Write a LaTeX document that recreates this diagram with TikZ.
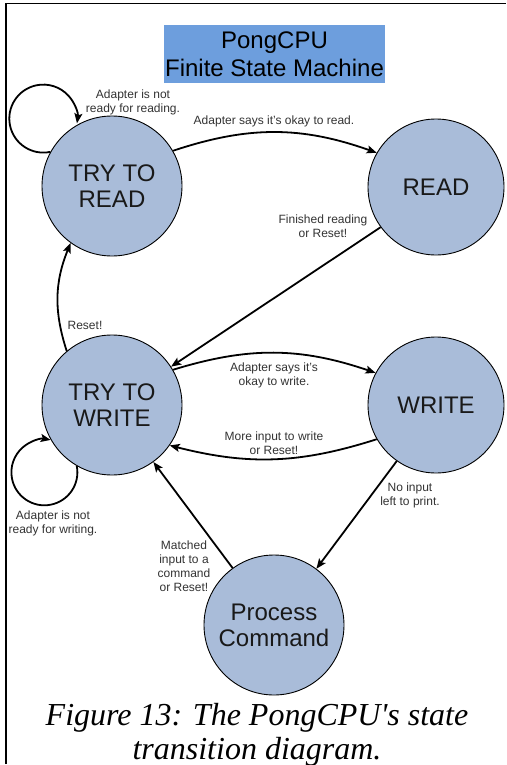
\documentclass[tikz,border=0pt]{standalone}
\usepackage{fontspec}
\setmainfont{Liberation Sans}
\newfontfamily\capfont{Liberation Serif}
\usetikzlibrary{arrows.meta}

\definecolor{statefill}{HTML}{A9BCD9}
\definecolor{titlefill}{HTML}{6D9EDD}
\definecolor{labelgray}{HTML}{333333}

\tikzset{
  state/.style={circle, draw=black, line width=0.9pt, fill=statefill,
    minimum size=140pt, inner sep=0pt, align=center,
    font=\fontsize{24}{26}\selectfont, text=black!90},
  smallstate/.style={state, minimum size=136pt},
  edge/.style={line width=1.8pt, -{Stealth[length=10pt,width=8pt,inset=2pt]}},
  lbl/.style={align=center, inner sep=0pt, text=labelgray,
    font=\fontsize{12}{14}\selectfont},
  frameline/.style={line width=1.4pt}
}

\begin{document}
\begin{tikzpicture}[x=1pt,y=1pt]
  \useasboundingbox (0,0) rectangle (506,-765);
  \fill[white] (0,0) rectangle (506,-765);

  % page frame
  \coordinate (fa) at (6,-764);
  \coordinate (fb) at (6,-3.5);
  \coordinate (fc) at (506,-3.5);
  \draw[frameline] (fa) -- (fb) -- (fc);

  % title
  \node (title) [rectangle, fill=titlefill, minimum width=221pt, minimum height=58pt,
    inner sep=0pt, align=center, font=\fontsize{24}{28}\selectfont]
    at (274.5,-54) {PongCPU\\Finite State Machine};

  % states
  \node (trd) [state] at (112,-186) {TRY TO\\READ};
  \node (rd)  [smallstate] at (436,-187) {READ};
  \node (trw) [state] at (112,-405) {TRY TO\\WRITE};
  \node (wr)  [smallstate] at (436,-405) {WRITE};
  \node (pc)  [state] at (274,-625) {Process\\Command};

  % self loops
  \draw[edge] (trd.151) arc[start angle=-78, end angle=-368, radius=34pt];
  \draw[edge] (trw.240) arc[start angle=11, end angle=-281, radius=33pt];

  % transitions
  \draw[edge] (trd.30) to[bend left=19] (rd.150);
  \draw[edge] (rd.216) -- (trw.33);
  \draw[edge] (trw.130) to[bend left=20] (trd.234);
  \draw[edge] (trw.30) to[bend left=18] (wr.152);
  \draw[edge] (wr.210) to[bend left=16] (trw.325);
  \draw[edge] (wr.235) -- (pc.53);
  \draw[edge] (pc.126) -- (trw.306);

  % transition labels
  \node (l1) [lbl] at (133,-102) {Adapter is not\\ready for reading.};
  \node (l2) [lbl] at (274,-121) {Adapter says it’s okay to read.};
  \node (l3) [lbl] at (323,-226) {Finished reading\\or Reset!};
  \node (l4) [lbl] at (85,-325) {Reset!};
  \node (l5) [lbl] at (274,-375) {Adapter says it’s\\okay to write.};
  \node (l6) [lbl] at (274,-443) {More input to write\\or Reset!};
  \node (l7) [lbl] at (410,-495) {No input\\left to print.};
  \node (l8) [lbl] at (53,-523) {Adapter is not\\ready for writing.};
  \node (l9) [lbl] at (184,-566) {Matched\\input to a\\command\\or Reset!};

  % caption
  \node (cap) [align=center, inner sep=0pt,
    font=\capfont\itshape\fontsize{32}{34}\selectfont]
    at (257,-734.5) {Figure 13: The PongCPU{\char"0027}s state\\transition diagram.};
\end{tikzpicture}
\end{document}
